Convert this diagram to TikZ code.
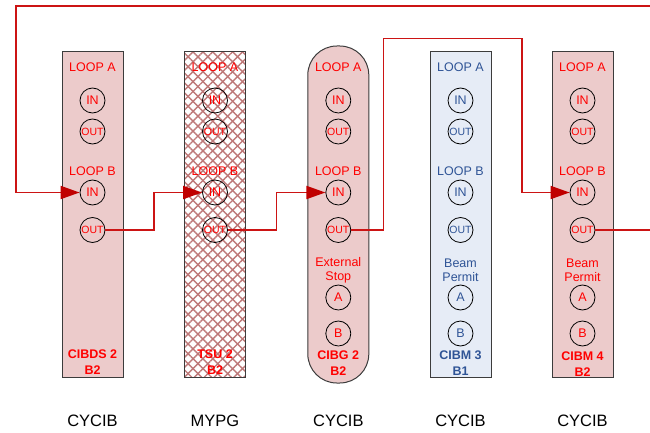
\documentclass[tikz,border=0pt]{standalone}
\usepackage{fontspec}
\setmainfont{Liberation Sans}
\usetikzlibrary{arrows.meta,patterns.meta}
\definecolor{pinkfill}{RGB}{236,203,203}
\definecolor{bluefill}{RGB}{230,236,246}
\definecolor{redtxt}{RGB}{255,0,0}
\definecolor{bluetxt}{RGB}{47,84,150}
\definecolor{linecol}{RGB}{204,20,20}
\definecolor{arrcol}{RGB}{192,0,0}
\definecolor{hatch}{RGB}{190,120,120}
\definecolor{edge}{RGB}{60,60,60}
\tikzset{
  card/.style={draw=edge, line width=1pt, minimum width=61pt, minimum height=325pt, inner sep=0pt},
  port/.style={circle, draw=black, line width=0.8pt, minimum size=25pt, inner sep=0pt, font=\fontsize{12.5}{12.5}\selectfont},
  outport/.style={port, font=\fontsize{10.5}{10.5}\selectfont},
  lbl/.style={font=\fontsize{12.5}{14}\selectfont, align=center, inner sep=0pt},
  blbl/.style={font=\bfseries\fontsize{12.5}{16}\selectfont, align=center, inner sep=0pt},
  kind/.style={font=\fontsize{16.5}{16.5}\selectfont, inner sep=0pt},
  wire/.style={draw=linecol, line width=1.8pt},
  arrow/.style={wire, -{Triangle[length=19pt,width=13pt,color=arrcol]}},
}
\begin{document}
\begin{tikzpicture}[x=1pt,y=-1pt]
\useasboundingbox (0,0) rectangle (650,433);
% boxes
\node[card, fill=pinkfill] (b1) at (92.5,214.5) {};
\node[card, fill=white,
  postaction={pattern={Lines[angle=45,distance=7pt,line width=1.4pt]}, pattern color=hatch},
  postaction={pattern={Lines[angle=-45,distance=7pt,line width=1.4pt]}, pattern color=hatch},
  postaction={draw=edge, line width=1pt}] (b2) at (215,214.5) {};
\node[card, fill=pinkfill, rounded corners=29pt, minimum height=337pt] (b3) at (338.3,214.5) {};
\node[card, fill=bluefill] (b4) at (460.5,214.5) {};
\node[card, fill=pinkfill] (b5) at (582.5,214.5) {};

% generic contents
\foreach \n/\x/\c in {1/92.5/redtxt,2/215/redtxt,3/338.3/redtxt,4/460.5/bluetxt,5/582.5/redtxt}{
  \node[lbl, text=\c] (la\n) at (\x,67) {LOOP A};
  \node[port, text=\c] (ai\n) at (\x,100.5) {IN};
  \node[outport, text=\c] (ao\n) at (\x,131.5) {OUT};
  \node[lbl, text=\c] (lb\n) at (\x,171) {LOOP B};
  \node[port, text=\c] (bi\n) at (\x,192.5) {IN};
  \node[outport, text=\c] (bo\n) at (\x,230) {OUT};
}
\foreach \n/\x/\c/\t in {3/338.3/redtxt/{External\\Stop},4/460.5/bluetxt/{Beam\\Permit},5/582.5/redtxt/{Beam\\Permit}}{
  \node[lbl, text=\c] (ext\n) at (\x,270.5) {\t};
  \node[port, text=\c] (pa\n) at (\x,297.5) {A};
  \node[port, text=\c] (pb\n) at (\x,333.5) {B};
}
\node[blbl, text=redtxt] (n1) at (92.5,362) {CIBDS 2\\B2};
\node[blbl, text=redtxt] (n2) at (215,362) {TSU 2\\B2};
\node[blbl, text=redtxt] (n3) at (338.3,363.5) {CIBG 2\\B2};
\node[blbl, text=bluetxt] (n4) at (460.5,363.5) {CIBM 3\\B1};
\node[blbl, text=redtxt] (n5) at (582.5,364) {CIBM 4\\B2};

\node[kind] (k1) at (92.5,420.5) {CYCIB};
\node[kind] (k2) at (215,420.5) {MYPG};
\node[kind] (k3) at (338.3,420.5) {CYCIB};
\node[kind] (k4) at (460.5,420.5) {CYCIB};
\node[kind] (k5) at (582.5,420.5) {CYCIB};

% connectors
\coordinate (topin) at (650,6);
\coordinate (rightout) at (650,230);
\draw[arrow] (topin) -- (16,6) |- (bi1.west);
\draw[arrow] (bo1.east) -| (154,192.5) -- (bi2.west);
\draw[arrow] (bo2.east) -| (276.5,192.5) -- (bi3.west);
\draw[arrow] (bo3.east) -| (383.5,38.5) -| (522,192.5) -- (bi5.west);
\draw[wire] (bo5.east) -- (rightout);
\end{tikzpicture}
\end{document}
